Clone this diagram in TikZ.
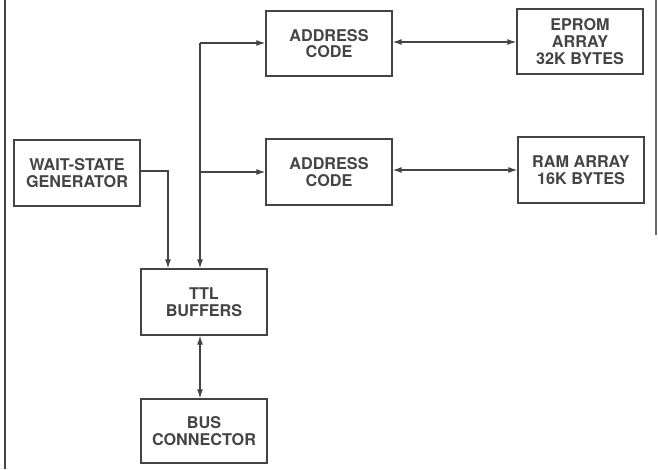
\documentclass[tikz,border=0pt]{standalone}
\usepackage{fontspec}
\setmainfont{TeX Gyre Heros}
\usetikzlibrary{arrows.meta}
\definecolor{ink}{HTML}{444444}
\begin{document}
\begin{tikzpicture}[x=1pt,y=-1pt,
  blk/.style={draw=ink, line width=1.3pt, text=ink, align=center, inner sep=0pt,
    font=\fontsize{16.2}{16.6}\selectfont\bfseries},
  conn/.style={draw=ink, line width=1.2pt, -{Latex[length=9pt,width=6pt]}},
  bconn/.style={draw=ink, line width=1.2pt, {Latex[length=9pt,width=6pt]}-{Latex[length=9pt,width=6pt]}}]
\useasboundingbox (0,0) rectangle (658,469);
% frame lines
\draw[ink, line width=1.4pt] (5,0) -- (5,469);
\draw[ink!80, line width=1.2pt] (656,0) -- (656,235);
% boxes
\node[blk, minimum width=126pt, minimum height=66pt] (wait) at (77,173) {WAIT-STATE\\GENERATOR};
\node[blk, minimum width=126pt, minimum height=65pt] (ad1) at (329,43.5) {ADDRESS\\CODE};
\node[blk, minimum width=126pt, minimum height=66pt] (ad2) at (329,172) {ADDRESS\\CODE};
\node[blk, minimum width=126pt, minimum height=65pt] (eprom) at (580,41.5) {EPROM\\ARRAY\\32K BYTES};
\node[blk, minimum width=126pt, minimum height=66pt] (ram) at (581,170) {RAM ARRAY\\16K BYTES};
\node[blk, minimum width=126pt, minimum height=66pt] (ttl) at (204,302) {TTL\\BUFFERS};
\node[blk, minimum width=126pt, minimum height=64pt] (bus) at (204,431) {BUS\\CONNECTOR};
% connectors
\coordinate (top) at (200,43);
\coordinate (mid) at (200,172);
\coordinate (wt) at (168,171);
\draw[conn] (top) -- (ad1.west |- top);
\draw[conn] (mid) -- (ad2.west |- mid);
\draw[conn] (top) -- (top |- ttl.north);
\draw[conn] (wait.east |- wt) -- (wt) -- (wt |- ttl.north);
\draw[bconn] (ad1.east |- 0,42) -- (eprom.west |- 0,42);
\draw[bconn] (ad2.east |- 0,170) -- (ram.west |- 0,170);
\draw[bconn] (ttl.south -| 200,0) -- (bus.north -| 200,0);
\end{tikzpicture}
\end{document}
